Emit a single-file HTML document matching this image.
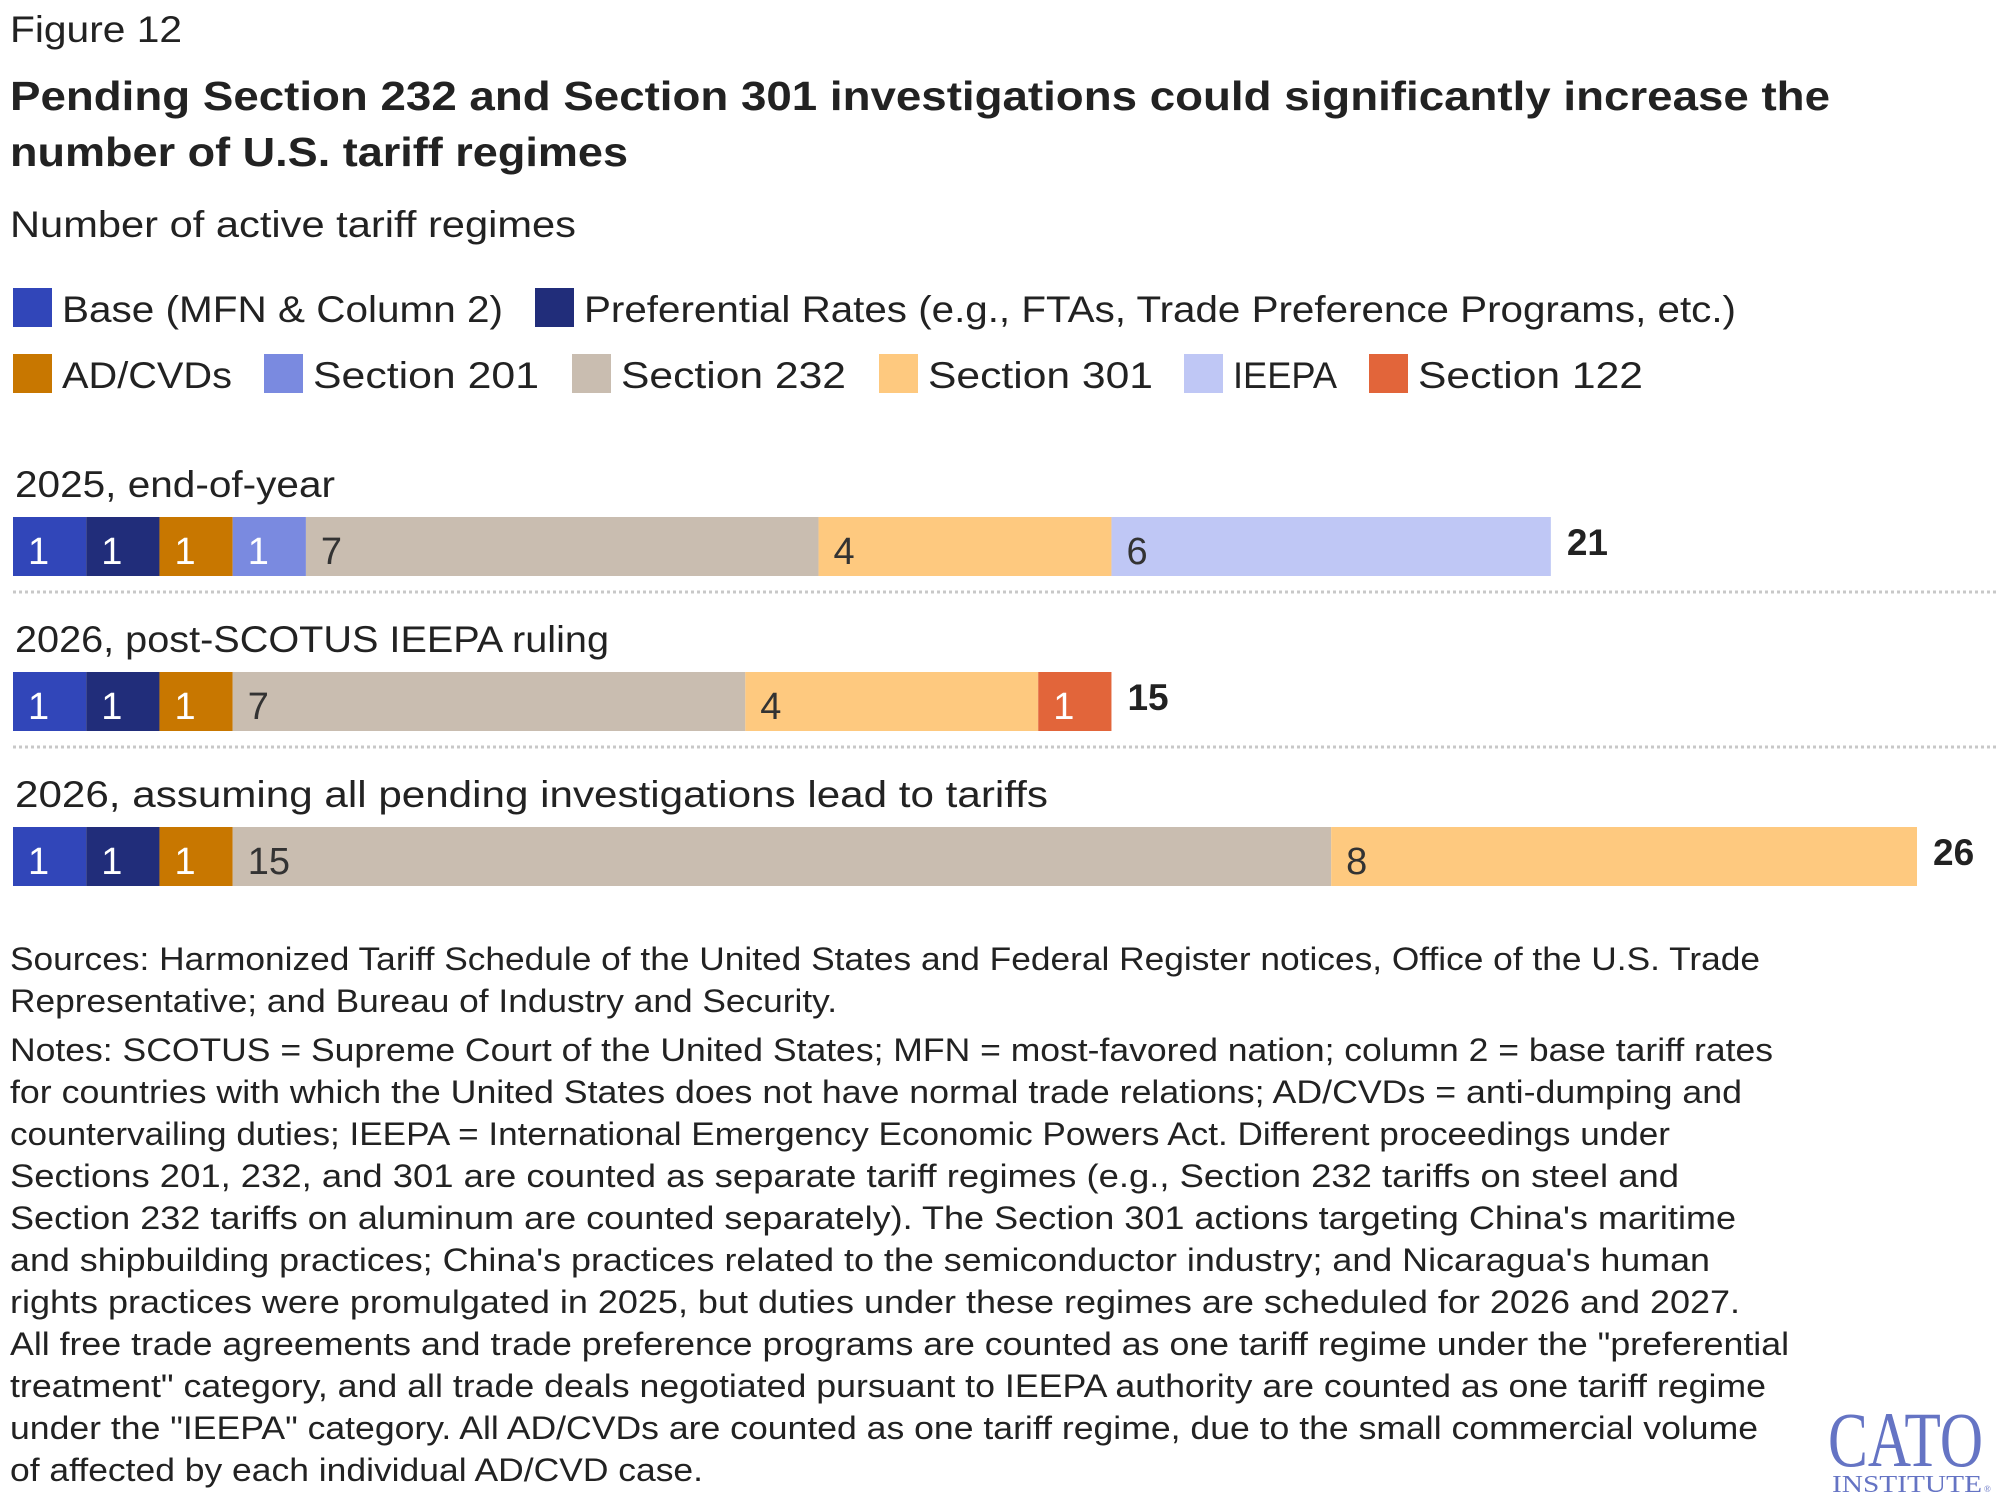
<!DOCTYPE html>
<html><head><meta charset="utf-8">
<style>
html,body{margin:0;padding:0;background:#fff;}
svg{display:block;}
text{font-family:"Liberation Sans",sans-serif;fill:#222;}
</style></head>
<body>
<svg id="chart" width="1997" height="1511" viewBox="0 0 1997 1511" xmlns="http://www.w3.org/2000/svg">
<rect x="0" y="0" width="1997" height="1511" fill="#fff"/>
<text x="10" y="42" font-size="37" textLength="172" lengthAdjust="spacingAndGlyphs">Figure 12</text>
<text x="10" y="110" font-size="41" font-weight="bold" textLength="1820" lengthAdjust="spacingAndGlyphs">Pending Section 232 and Section 301 investigations could significantly increase the</text>
<text x="10" y="166" font-size="41" font-weight="bold" textLength="618" lengthAdjust="spacingAndGlyphs">number of U.S. tariff regimes</text>
<text x="10" y="237" font-size="37" textLength="566" lengthAdjust="spacingAndGlyphs">Number of active tariff regimes</text>
<g id="legend"></g>
<g id="bars"></g>
<g font-size="32">
<text x="10" y="970" textLength="1750" lengthAdjust="spacingAndGlyphs">Sources: Harmonized Tariff Schedule of the United States and Federal Register notices, Office of the U.S. Trade</text>
<text x="10" y="1012" textLength="827" lengthAdjust="spacingAndGlyphs">Representative; and Bureau of Industry and Security.</text>
<text x="10" y="1061" textLength="1763" lengthAdjust="spacingAndGlyphs">Notes: SCOTUS = Supreme Court of the United States; MFN = most-favored nation; column 2 = base tariff rates</text>
<text x="10" y="1103" textLength="1732" lengthAdjust="spacingAndGlyphs">for countries with which the United States does not have normal trade relations; AD/CVDs = anti-dumping and</text>
<text x="10" y="1145" textLength="1660" lengthAdjust="spacingAndGlyphs">countervailing duties; IEEPA = International Emergency Economic Powers Act. Different proceedings under</text>
<text x="10" y="1187" textLength="1669" lengthAdjust="spacingAndGlyphs">Sections 201, 232, and 301 are counted as separate tariff regimes (e.g., Section 232 tariffs on steel and</text>
<text x="10" y="1229" textLength="1726" lengthAdjust="spacingAndGlyphs">Section 232 tariffs on aluminum are counted separately). The Section 301 actions targeting China's maritime</text>
<text x="10" y="1271" textLength="1700" lengthAdjust="spacingAndGlyphs">and shipbuilding practices; China's practices related to the semiconductor industry; and Nicaragua's human</text>
<text x="10" y="1313" textLength="1730" lengthAdjust="spacingAndGlyphs">rights practices were promulgated in 2025, but duties under these regimes are scheduled for 2026 and 2027.</text>
<text x="10" y="1355" textLength="1779" lengthAdjust="spacingAndGlyphs">All free trade agreements and trade preference programs are counted as one tariff regime under the "preferential</text>
<text x="10" y="1397" textLength="1756" lengthAdjust="spacingAndGlyphs">treatment" category, and all trade deals negotiated pursuant to IEEPA authority are counted as one tariff regime</text>
<text x="10" y="1439" textLength="1748" lengthAdjust="spacingAndGlyphs">under the "IEEPA" category. All AD/CVDs are counted as one tariff regime, due to the small commercial volume</text>
<text x="10" y="1481" textLength="693" lengthAdjust="spacingAndGlyphs">of affected by each individual AD/CVD case.</text>
</g>
<g>
<text x="1828" y="1466" font-size="78" style="font-family:'Liberation Serif',serif;fill:#6574c4" textLength="155" lengthAdjust="spacingAndGlyphs">CATO</text>
<text x="1832" y="1492" font-size="24" style="font-family:'Liberation Serif',serif;fill:#6574c4" textLength="150" lengthAdjust="spacingAndGlyphs">INSTITUTE</text>
<text x="1984" y="1492" font-size="9" style="font-family:'Liberation Serif',serif;fill:#6574c4">®</text>
</g>
</svg>
<script>
const seriesNames = ["Base (MFN & Column 2)","Preferential Rates (e.g., FTAs, Trade Preference Programs, etc.)","AD/CVDs","Section 201","Section 232","Section 301","IEEPA","Section 122"];
const seriesColors = ["#3146b9","#212d7a","#c87700","#7a8ae0","#c9bdb0","#fec97f","#bfc7f5","#e2653a"];
const labelDark = [false,false,false,false,true,true,true,false];
const categories = ["2025, end-of-year","2026, post-SCOTUS IEEPA ruling","2026, assuming all pending investigations lead to tariffs"];
const valuesBase = [1,1,1];
const valuesPref = [1,1,1];
const valuesAdcvd = [1,1,1];
const values201 = [1,0,0];
const values232 = [7,7,15];
const values301 = [4,4,8];
const valuesIeepa = [6,0,0];
const values122 = [0,1,0];
const seriesValues = [valuesBase,valuesPref,valuesAdcvd,values201,values232,values301,valuesIeepa,values122];

const NS = "http://www.w3.org/2000/svg";
const x0 = 13, unit = (1917 - 13) / 26;
function xScale(v){ return x0 + v * unit; }
const barTop = [517, 672, 827];
const barH = 59;

function mk(tag, attrs, parent){
  const e = document.createElementNS(NS, tag);
  for (const k in attrs) e.setAttribute(k, attrs[k]);
  parent.appendChild(e);
  return e;
}

const legend = document.getElementById('legend');
const legPos = [[13,288],[535,288],[13,354],[264,354],[572,354],[879,354],[1184,354],[1369,354]];
const legEnds = [503,1736,232,539,846,1153,1337,1643];
seriesNames.forEach((n,i)=>{
  const g = mk('g',{},legend);
  
  
  mk('rect',{x:legPos[i][0],y:legPos[i][1],width:39,height:39,fill:seriesColors[i]},g);
  const t = mk('text',{x:legPos[i][0]+49,y:legPos[i][1]+34,'font-size':37,textLength:legEnds[i]-legPos[i][0]-49,lengthAdjust:'spacingAndGlyphs'},g);
  t.textContent = n;
});

const bars = document.getElementById('bars');
const catEnds = [335,609,1048];
categories.forEach((c,ci)=>{
  const lab = mk('text',{x:15,y:barTop[ci]-20,'font-size':37,textLength:catEnds[ci]-15,lengthAdjust:'spacingAndGlyphs'},bars);
  
  
  lab.textContent = c;
  let cum = 0;
  seriesValues.forEach((vals,si)=>{
    const v = vals[ci];
    if (!v) return;
    const r = mk('rect',{x:xScale(cum),y:barTop[ci],width:xScale(cum+v)-xScale(cum),height:barH,fill:seriesColors[si]},bars);
    
    
    const t = mk('text',{x:xScale(cum)+15,y:barTop[ci]+barH-12,'font-size':38},bars);
    
    
    t.style.fill = labelDark[si] ? '#333' : '#fff';
    t.textContent = v;
    cum += v;
  });
  const tot = mk('text',{x:xScale(cum)+16,y:barTop[ci]+38,'font-size':37,'font-weight':'bold'},bars);
  
  
  tot.textContent = cum;
  if (ci < categories.length - 1) {
    const ln = mk('line',{x1:13,x2:1997,y1:barTop[ci]+barH+16,y2:barTop[ci]+barH+16,stroke:'#c8c8c8','stroke-width':3,'stroke-dasharray':'3 3'},bars);
    
    
  }
});
</script>
</body></html>
